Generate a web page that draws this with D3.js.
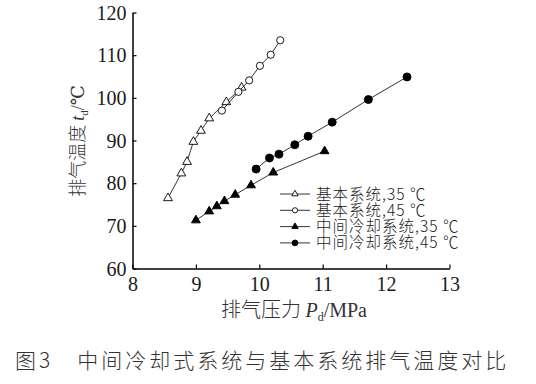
<!doctype html>
<html>
  <head>
    <meta charset="utf-8">
    <title>排气温度对比</title>
    <script src="https://cdnjs.cloudflare.com/ajax/libs/d3/7.8.5/d3.min.js"></script>
    <style>
      body { margin: 0; background: #fff; }
    </style>
  </head>
  <body>
    <div id="chart"></div>
    <script>
      // data: discharge pressure (MPa) vs discharge temperature (℃)
      const basic35P = [8.56, 8.77, 8.86, 8.96, 9.08, 9.21, 9.48, 9.72]
      const basic35T = [76.5, 82.3, 85.0, 89.7, 92.3, 95.2, 99.0, 102.4]
      const basic45P = [9.41, 9.67, 9.84, 10.01, 10.18, 10.33]
      const basic45T = [97.0, 101.4, 104.1, 107.5, 110.1, 113.5]
      const inter35P = [9.00, 9.21, 9.33, 9.45, 9.62, 9.87, 10.22, 11.03]
      const inter35T = [71.3, 73.4, 74.6, 75.8, 77.3, 79.5, 82.5, 87.5]
      const inter45P = [9.95, 10.16, 10.31, 10.56, 10.77, 11.15, 11.72, 12.33]
      const inter45T = [83.3, 85.9, 86.8, 89.0, 91.0, 94.3, 99.6, 104.9]

      const seriesNames = ['基本系统,35 ℃', '基本系统,45 ℃', '中间冷却系统,35 ℃', '中间冷却系统,45 ℃']
      const xTicks = [8, 9, 10, 11, 12, 13]
      const yTicks = [60, 70, 80, 90, 100, 110, 120]

      const SERIF = '"Liberation Serif", "DejaVu Serif", serif'
      const CJK = '"Noto Sans CJK SC", sans-serif'

      const series = [
        { name: seriesNames[0], P: basic35P, T: basic35T, shape: 'tri', fill: '#fff' },
        { name: seriesNames[1], P: basic45P, T: basic45T, shape: 'circ', fill: '#fff' },
        { name: seriesNames[2], P: inter35P, T: inter35T, shape: 'tri', fill: '#000' },
        { name: seriesNames[3], P: inter45P, T: inter45T, shape: 'circ', fill: '#000' }
      ]

      const svg = d3.select('#chart').append('svg')
        .attr('width', 536)
        .attr('height', 384)

      const x = d3.scaleLinear().domain([8, 13]).range([132.5, 449.5])
      const y = d3.scaleLinear().domain([60, 120]).range([268.5, 12.5])

      // axes, ticks pointing inward
      const xAxis = svg.append('g')
        .attr('transform', 'translate(0,268.5)')
        .call(d3.axisBottom(x).tickValues(xTicks).tickFormat(d3.format('d'))
          .tickSizeInner(-4).tickSizeOuter(0).tickPadding(8))
      const yAxis = svg.append('g')
        .attr('transform', 'translate(132.5,0)')
        .call(d3.axisLeft(y).tickValues(yTicks).tickFormat(d3.format('d'))
          .tickSizeInner(-4).tickSizeOuter(0).tickPadding(6))

      for (const ax of [xAxis, yAxis]) {
        ax.attr('font-family', SERIF).attr('font-size', 20)
        ax.select('.domain').attr('stroke', '#000').attr('stroke-width', 1.5)
        ax.selectAll('.tick line').attr('stroke', '#000').attr('stroke-width', 1.2)
        ax.selectAll('.tick text').attr('fill', '#1a1a1a')
      }
      yAxis.selectAll('.tick text').attr('dy', '0.34em')
      xAxis.selectAll('.tick text').attr('dy', '0.72em')

      const line = d3.line()

      function drawMarker(g, shape, fill, cx, cy, scale) {
        if (shape === 'circ') {
          g.append('circle')
            .attr('cx', cx).attr('cy', cy)
            .attr('r', (fill === '#000' ? 4 : 3.6) * scale)
            .attr('fill', fill).attr('stroke', '#000').attr('stroke-width', 0.9)
        } else {
          g.append('path')
            .attr('d', d3.symbol().type(d3.symbolTriangle).size(34 * scale * scale))
            .attr('transform', `translate(${cx},${cy})`)
            .attr('fill', fill).attr('stroke', '#000').attr('stroke-width', 0.9)
        }
      }

      // series lines and markers
      series.forEach(s => {
        const pts = s.P.map((p, i) => [x(p), y(s.T[i])])
        svg.append('path')
          .attr('d', line(pts))
          .attr('fill', 'none')
          .attr('stroke', '#000')
          .attr('stroke-width', 0.8)
        const g = svg.append('g')
        pts.forEach(pt => drawMarker(g, s.shape, s.fill, pt[0], pt[1], 1))
      })

      // legend
      const legend = svg.append('g')
      series.forEach((s, i) => {
        const ly = 194 + i * 16.3
        legend.append('line')
          .attr('x1', 280).attr('x2', 310)
          .attr('y1', ly).attr('y2', ly)
          .attr('stroke', '#000').attr('stroke-width', 0.8)
        drawMarker(legend, s.shape, s.fill, 295, ly, 0.72)
        legend.append('text')
          .attr('x', 316).attr('y', ly)
          .attr('dy', '0.36em')
          .attr('font-family', CJK)
          .attr('font-weight', 300)
          .attr('font-size', 15.5)
          .attr('letter-spacing', 1)
          .attr('fill', '#1a1a1a')
          .text(s.name)
      })

      // axis titles
      const xt = svg.append('text')
        .attr('x', 294).attr('y', 317)
        .attr('text-anchor', 'middle')
        .attr('font-size', 20)
        .attr('fill', '#333')
      xt.append('tspan').attr('font-family', CJK).attr('font-weight', 300).text('排气压力 ')
      xt.append('tspan').attr('font-family', SERIF).attr('font-style', 'italic').text('P')
      xt.append('tspan').attr('font-family', SERIF).attr('font-size', 12).attr('dy', 4).text('d')
      xt.append('tspan').attr('font-family', SERIF).attr('dy', -4).text('/MPa')

      const yt = svg.append('text')
        .attr('transform', 'translate(84,141) rotate(-90)')
        .attr('text-anchor', 'middle')
        .attr('font-size', 18)
        .attr('fill', '#333')
      yt.append('tspan').attr('font-family', CJK).attr('font-weight', 300).text('排气温度 ')
      yt.append('tspan').attr('font-family', SERIF).attr('font-style', 'italic').text('t')
      yt.append('tspan').attr('font-family', SERIF).attr('font-size', 11).attr('dy', 4).text('d')
      yt.append('tspan').attr('font-family', SERIF).attr('dy', -4).text('/℃')

      // caption
      svg.append('text')
        .attr('x', 15).attr('y', 368)
        .attr('font-family', CJK)
        .attr('font-weight', 300)
        .attr('font-size', 21)
        .attr('fill', '#333')
        .attr('letter-spacing', 3)
        .text('图3　中间冷却式系统与基本系统排气温度对比')
    </script>
  </body>
</html>
